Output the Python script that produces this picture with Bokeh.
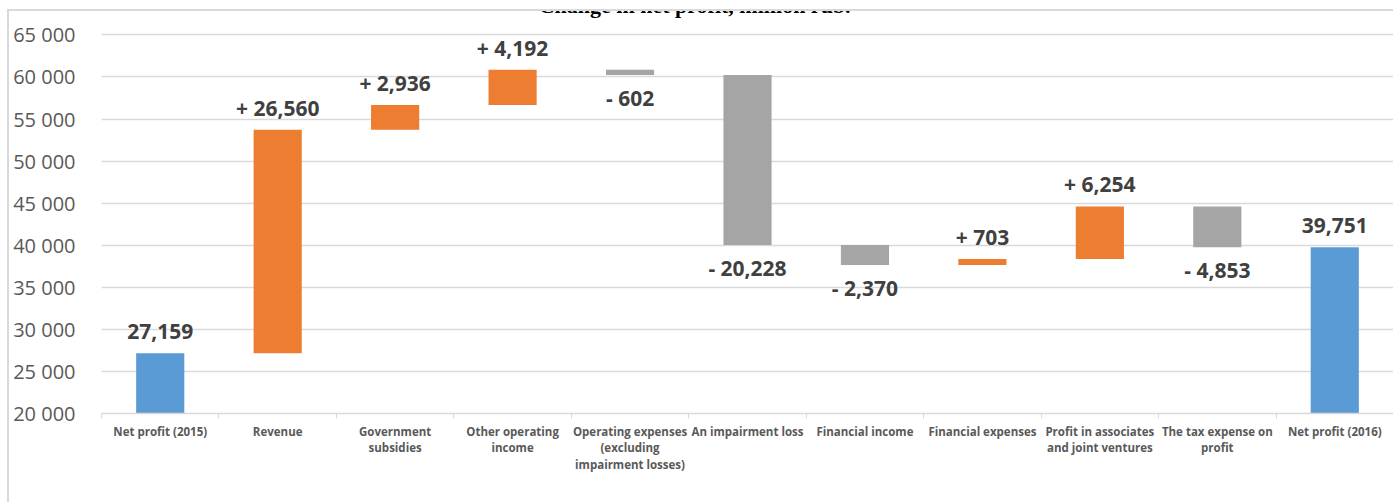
from bokeh.plotting import figure
from bokeh.models import Range1d, FixedTicker, ColumnDataSource, Label, InlineStyleSheet
from bokeh.embed import file_html
from bokeh.resources import INLINE
from bokeh.core.properties import value

# ---- data ----
categories = ["Net profit (2015)", "Revenue", "Government\nsubsidies", "Other operating\nincome",
              "Operating expenses\n(excluding\nimpairment losses)", "An impairment loss",
              "Financial income", "Financial expenses", "Profit in associates\nand joint ventures",
              "The tax expense on\nprofit", "Net profit (2016)"]
changes = [27159, 26560, 2936, 4192, -602, -20228, -2370, 703, 6254, -4853, 39751]
kinds = ["total", "up", "up", "up", "down", "down", "down", "up", "up", "down", "total"]
y_ticks = [20000, 25000, 30000, 35000, 40000, 45000, 50000, 55000, 60000, 65000]
y_tick_labels = ["20 000", "25 000", "30 000", "35 000", "40 000", "45 000",
                 "50 000", "55 000", "60 000", "65 000"]
title_text = "Change in net profit, million rub."

colors = {"total": "#5B9BD5", "up": "#ED7D31", "down": "#A5A5A5"}

# ---- waterfall geometry ----
xs, bottoms, tops, fills, labels = [], [], [], [], []
running = 0
for i, (c, k) in enumerate(zip(changes, kinds)):
    if k == "total":
        b, t = 20000, c
        running = c
        lab = f"{c:,}"
    else:
        start = running
        running = running + c
        b, t = min(start, running), max(start, running)
        lab = (f"+ {c:,}" if c > 0 else f"- {abs(c):,}")
    xs.append(i + 0.5)
    bottoms.append(b)
    tops.append(t)
    fills.append(colors[k])
    labels.append(lab)

src = ColumnDataSource(dict(x=xs, bottom=bottoms, top=tops, color=fills))

up_idx = [i for i, k in enumerate(kinds) if k != "down"]
dn_idx = [i for i, k in enumerate(kinds) if k == "down"]
src_up = ColumnDataSource(dict(x=[xs[i] for i in up_idx], y=[tops[i] for i in up_idx],
                               t=[labels[i] for i in up_idx]))
src_dn = ColumnDataSource(dict(x=[xs[i] for i in dn_idx], y=[bottoms[i] for i in dn_idx],
                               t=[labels[i] for i in dn_idx]))

# chart-area border (top & left edges; right/bottom lie outside the page)
border_css = InlineStyleSheet(css="""
:host { position: relative; }
:host::after {
  content: ""; position: absolute; left: 7px; top: 9px; right: 0; bottom: 0;
  border-left: 2px solid #D9D9D9; border-top: 2px solid #D9D9D9;
  pointer-events: none; box-sizing: border-box;
}
""")

Y_BOT, Y_TOP = 20000, 67900
p = figure(width=1393, height=502, output_backend="svg", toolbar_location=None,
           x_range=Range1d(0, len(categories)), y_range=Range1d(Y_BOT, Y_TOP),
           min_border_left=101, min_border_right=0, min_border_top=10,
           min_border_bottom=89, stylesheets=[border_css])
p.outline_line_color = None
p.background_fill_color = "white"
p.border_fill_color = "white"

p.vbar(x="x", bottom="bottom", top="top", width=0.41, fill_color="color",
       line_color=None, source=src)

font = value("Open Sans")
p.text(x="x", y="y", text="t", source=src_up, text_font=font, text_font_style="bold",
       text_font_size="21px", text_color="#404040", text_align="center",
       text_baseline="middle", y_offset=-22)
p.text(x="x", y="y", text="t", source=src_dn, text_font=font, text_font_style="bold",
       text_font_size="21px", text_color="#404040", text_align="center",
       text_baseline="middle", y_offset=23)

# x axis
centers = [i + 0.5 for i in range(len(categories))]
p.xaxis.ticker = FixedTicker(ticks=centers, minor_ticks=list(range(len(categories) + 1)))
p.xaxis.major_label_overrides = {c: n for c, n in zip(centers, categories)}
p.xaxis.major_tick_out = 0
p.xaxis.major_tick_in = 0
p.xaxis.minor_tick_out = 5
p.xaxis.minor_tick_in = 0
p.xaxis.minor_tick_line_color = "#D9D9D9"
p.xaxis.axis_line_color = "#D9D9D9"
p.xaxis.axis_line_width = 1.5
p.xaxis.major_label_text_font = "Open Sans"
p.xaxis.major_label_text_font_style = "bold"
p.xaxis.major_label_text_font_size = "11.5px"
p.xaxis.major_label_text_line_height = 1.1
p.xaxis.major_label_text_color = "#595959"
p.xaxis.major_label_standoff = 5
p.xgrid.visible = False

# y axis
p.yaxis.ticker = FixedTicker(ticks=y_ticks)
p.yaxis.major_label_overrides = {t: s for t, s in zip(y_ticks, y_tick_labels)}
p.yaxis.axis_line_color = None
p.yaxis.major_tick_line_color = None
p.yaxis.minor_tick_line_color = None
p.yaxis.major_label_text_font = "Open Sans"
p.yaxis.major_label_text_font_size = "20px"
p.yaxis.major_label_text_color = "#595959"
p.yaxis.major_label_standoff = 20
p.ygrid.grid_line_color = "#D9D9D9"
p.ygrid.grid_line_width = 1.5

# title (partly above the page, as in the reference)
p.add_layout(Label(x=len(categories) / 2 - 0.45, y=68450, text=title_text,
                   text_font="Liberation Serif", text_font_style="bold",
                   text_font_size="22px", text_color="black", text_align="center",
                   text_baseline="alphabetic"))

open("out.html", "w").write(file_html(p, INLINE))
